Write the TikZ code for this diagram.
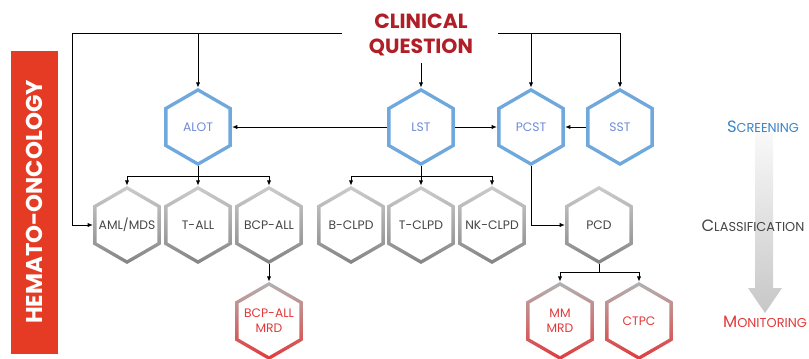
\documentclass[tikz,border=0pt]{standalone}
\usepackage{fontspec}
\setmainfont{Poppins}
\usetikzlibrary{shapes.geometric,arrows.meta,calc}
\definecolor{hexblue}{HTML}{6FA8DC}
\definecolor{txtblue}{HTML}{6E8BD6}
\definecolor{lblblue}{HTML}{3A84C8}
\definecolor{hexred}{HTML}{E23A3A}
\definecolor{hemared}{HTML}{E53B24}
\definecolor{titlered}{HTML}{B01E28}
\definecolor{txtgray}{HTML}{454545}

\begin{document}
\begin{tikzpicture}[x=0.03cm,y=-0.03cm,
	hexa/.style 2 args={regular polygon, regular polygon sides=6,
		shape border rotate=30, minimum size=2.34cm,
		inner xsep=-14pt, inner ysep=-4pt,
		align=center, font=\fontsize{10.5}{13}\selectfont,
		path picture={
			\shade[top color=#1, bottom color=#2]
				(path picture bounding box.south west) rectangle
				(path picture bounding box.north east);
			\coordinate (hc) at (path picture bounding box.center);
			\fill[white] ($(hc)+(90:1.05cm)$) -- ($(hc)+(150:1.05cm)$)
				-- ($(hc)+(210:1.05cm)$) -- ($(hc)+(270:1.05cm)$)
				-- ($(hc)+(330:1.05cm)$) -- ($(hc)+(30:1.05cm)$) -- cycle;
		}},
	screen/.style={hexa={hexblue}{hexblue}, text=txtblue},
	classif/.style={hexa={black!20}{black!48}, text=txtgray},
	monit/.style={hexa={black!30}{hexred}, text=hexred},
	arr/.style={-{Latex[length=4.5pt,width=3.6pt]}, line width=0.8pt},
	link/.style={line width=0.8pt}]
	\useasboundingbox (0,0) rectangle (809,358);
	%% side bar
	\fill[hemared] (11,51) rectangle (58,354);
	\node[rotate=90, text=white, font=\bfseries\fontsize{19.5}{21}\selectfont]
		(hemato) at (34.5,202) {HEMATO-ONCOLOGY};
	%% level arrow
	\shade[top color=white, bottom color=black!22]
		(755,110) -- (773,110) -- (773,288) -- (782,288) -- (765,313)
		-- (748,288) -- (755,288) -- cycle;
	%% level labels
	\node[text=lblblue] (lscr) at (763,127)
		{{\fontsize{14}{15}\selectfont S}{\fontsize{11}{12}\selectfont CREENING}};
	\node[text=txtgray] (lcla) at (753,226)
		{{\fontsize{14}{15}\selectfont C}{\fontsize{11}{12}\selectfont LASSIFICATION}};
	\node[text=hexred] (lmon) at (765,322)
		{{\fontsize{14}{15}\selectfont M}{\fontsize{11}{12}\selectfont ONITORING}};
	%% title
	\node[text=titlered, align=center, inner sep=4pt,
		font=\bfseries\fontsize{17.5}{21.5}\selectfont] (cq) at (421,35)
		{CLINICAL\\QUESTION};
	%% screening
	\node[screen] (alot) at (198,127) {ALOT};
	\node[screen] (lst) at (421,127) {LST};
	\node[screen] (pcst) at (531,127) {PCST};
	\node[screen] (sst) at (620,127) {SST};
	%% classification
	\node[classif] (aml) at (127,225) {AML/MDS};
	\node[classif] (tall) at (198,225) {T-ALL};
	\node[classif] (bcp) at (269,225) {BCP-ALL};
	\node[classif] (bclpd) at (351,225) {B-CLPD};
	\node[classif] (tclpd) at (421,225) {T-CLPD};
	\node[classif] (nkclpd) at (492,225) {NK-CLPD};
	\node[classif] (pcd) at (599,225) {PCD};
	%% monitoring
	\node[monit] (bcpmrd) at (269,321) {BCP-ALL\\MRD};
	\node[monit] (mmmrd) at (560,321) {MM\\MRD};
	\node[monit] (ctpc) at (639,321) {CTPC};
	%% connectors from the question
	\coordinate (cqL) at (342,33);
	\coordinate (lbend) at (72,33);
	\coordinate (cqR) at (498,33);
	\draw[arr] (cqL) -- (lbend) |- (aml.west);
	\draw[arr] (alot.north |- cqL) -- (alot.north);
	\draw[arr] (lst.north |- 0,63) -- (lst.north);
	\draw[arr] (cqR) -| (sst.north);
	\draw[arr] (pcst.north |- cqR) -- (pcst.north);
	%% screening links
	\draw[arr, {Latex[length=4.5pt,width=3.6pt]}-] (alot.east) -- (lst.west);
	\draw[arr] (lst.east) -- (pcst.west);
	\draw[arr] (sst.west) -- (pcst.east);
	%% branches
	\coordinate (alotb) at (alot.south |- 0,176);
	\coordinate (lstb) at (lst.south |- 0,176);
	\coordinate (pcdb) at (pcd.south |- 0,272);
	\draw[link] (alot.south) -- (alotb);
	\draw[link] (lst.south) -- (lstb);
	\draw[link] (pcd.south) -- (pcdb);
	\foreach \n in {aml,tall,bcp}
		\draw[arr] (alotb) -| (\n.north);
	\foreach \n in {bclpd,tclpd,nkclpd}
		\draw[arr] (lstb) -| (\n.north);
	\foreach \n in {mmmrd,ctpc}
		\draw[arr] (pcdb) -| (\n.north);
	\draw[arr] (pcst.south) |- (pcd.west);
	\draw[arr] (bcp.south) -- (bcpmrd.north);
\end{tikzpicture}
\end{document}
